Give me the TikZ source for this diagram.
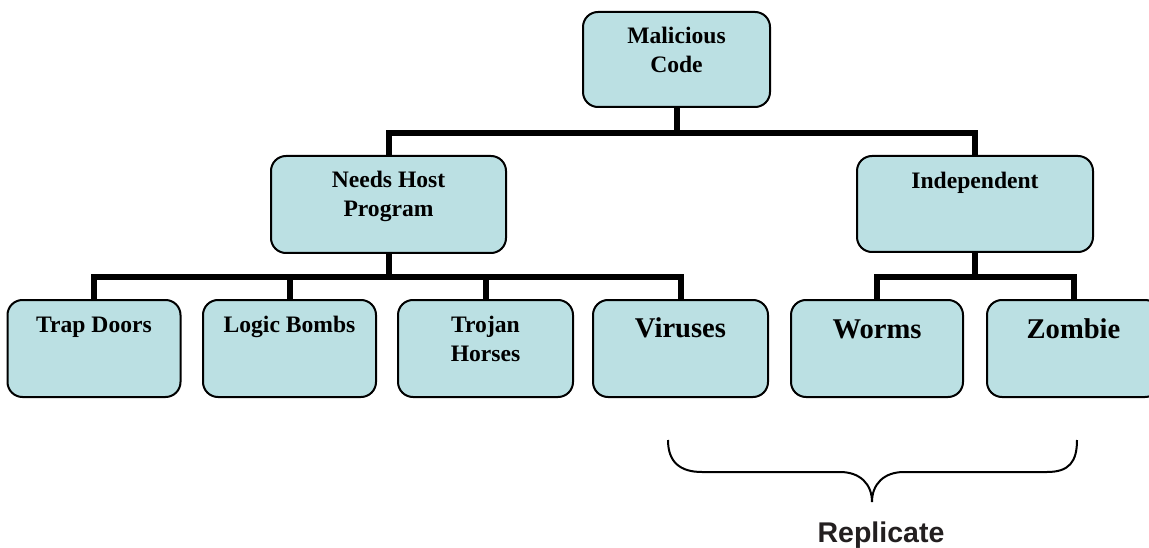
\documentclass[tikz,border=0pt]{standalone}
\usepackage{fontspec}
\setmainfont{Liberation Serif}
\newfontfamily\repfont{Liberation Sans}
\usetikzlibrary{backgrounds}
\definecolor{boxfill}{RGB}{187,224,227}
\definecolor{reptext}{RGB}{35,31,32}
\begin{document}
\begin{tikzpicture}[x=1pt,y=-1pt,
  box/.style={draw=black, line width=2pt, fill=boxfill, rounded corners=15pt,
    inner sep=0pt, minimum width=173pt, minimum height=97pt},
  txt/.style={font=\fontsize{23.6pt}{29pt}\selectfont\bfseries, align=center,
    anchor=north, inner sep=0pt},
  bigtxt/.style={font=\fontsize{28.6pt}{34pt}\selectfont\bfseries, align=center,
    anchor=north, inner sep=0pt},
  conn/.style={line width=6pt, draw=black},
  bracepath/.style={line width=2pt, draw=black}]
\useasboundingbox (0,0) rectangle (1149,548);
\clip (0,0) rectangle (1149,548);

% connector junctions
\coordinate (bus1) at (676.5,133);
\coordinate (bus2) at (388.5,277);
\coordinate (bus3) at (975,277);

% boxes
\node[box, minimum width=187pt, minimum height=95pt] (root) at (676.5,59.5) {};
\node[box, minimum width=235pt] (host) at (388.5,204.5) {};
\node[box, minimum width=236pt, minimum height=96pt] (indep) at (975,204) {};
\node[box] (trap) at (94,348.5) {};
\node[box] (logic) at (289.5,348.5) {};
\node[box, minimum width=175pt] (trojan) at (485.5,348.5) {};
\node[box, minimum width=175pt] (virus) at (680.5,348.5) {};
\node[box, minimum width=172pt] (worms) at (877,348.5) {};
\node[box] (zombie) at (1073.5,348.5) {};

% connectors (behind boxes)
\begin{pgfonlayer}{background}
\draw[conn] (root.south) -- (bus1);
\draw[conn] (host.north) |- (bus1) -| (indep.north);
\draw[conn] (host.south) -- (bus2);
\draw[conn] (trap.north) |- (bus2) -| (virus.north);
\draw[conn] (logic.north) -- (logic.north |- bus2);
\draw[conn] (trojan.north) -- (trojan.north |- bus2);
\draw[conn] (indep.south) -- (bus3);
\draw[conn] (worms.north) |- (bus3) -| (zombie.north);
\end{pgfonlayer}

% texts
\node[txt] (rootT) at ([yshift=-12pt]root.north) {\rule{0pt}{20pt}Malicious\\Code};
\node[txt] (hostT) at ([yshift=-12pt]host.north) {\rule{0pt}{20pt}Needs Host\\Program};
\node[txt] (indepT) at ([yshift=-13pt]indep.north) {\rule{0pt}{20pt}Independent};
\node[txt] (trapT) at ([yshift=-13pt]trap.north) {\rule{0pt}{20pt}Trap Doors};
\node[txt] (logicT) at ([yshift=-13pt]logic.north) {\rule{0pt}{20pt}Logic Bombs};
\node[txt] (trojanT) at ([yshift=-13pt]trojan.north) {\rule{0pt}{20pt}Trojan\\Horses};
\node[bigtxt] (virusT) at ([yshift=-14pt]virus.north) {\rule{0pt}{24pt}Viruses};
\node[bigtxt] (wormsT) at ([yshift=-15pt]worms.north) {\rule{0pt}{24pt}Worms};
\node[bigtxt] (zombieT) at ([yshift=-15pt]zombie.north) {\rule{0pt}{24pt}Zombie};

% brace
\coordinate (bl) at (668,440);
\coordinate (bt) at (872,502);
\coordinate (br) at (1077,440);
\draw[bracepath] (bl) .. controls (668,462) and (680,472) .. (702,472)
  -- (840,472) .. controls (860,472) and (872,484) .. (bt)
  .. controls (872,484) and (884,472) .. (904,472)
  -- (1047,472) .. controls (1069,472) and (1077,462) .. (br);
\node[font=\repfont\bfseries\fontsize{28.5pt}{34pt}\selectfont, text=reptext,
  anchor=base, inner sep=0pt] (rep) at (881,542) {Replicate};
\end{tikzpicture}
\end{document}
